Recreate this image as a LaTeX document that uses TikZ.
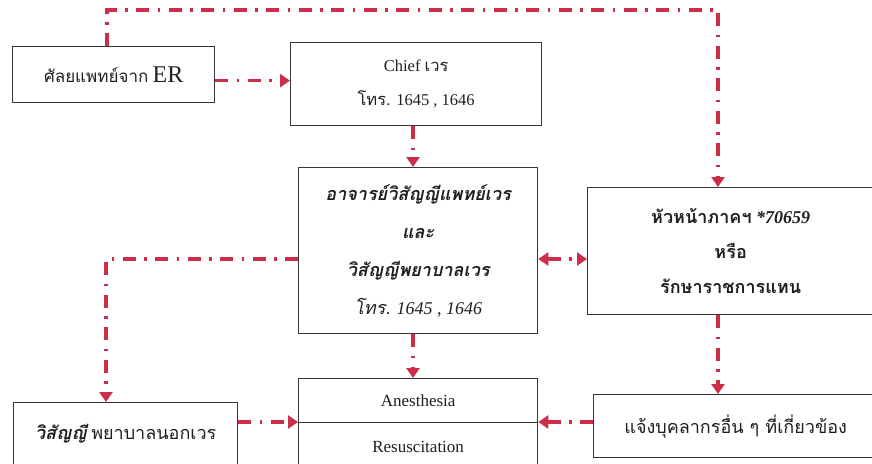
\documentclass[tikz,border=0pt]{standalone}
\usepackage{fontspec}
\setmainfont{Liberation Serif}
\newfontfamily\thai[Script=Thai]{Loma}
\usetikzlibrary{arrows.meta,calc}
\definecolor{conn}{RGB}{204,45,72}
\definecolor{boxline}{RGB}{55,55,50}
\tikzset{
  box/.style={draw=boxline, line width=1.3pt, inner sep=0pt, anchor=north west, align=center, text=black!88},
  link/.style={draw=conn, line width=3.2pt, dash pattern=on 13pt off 8.5pt on 2.5pt off 8.5pt},
  tip/.style={-{Triangle[length=10pt,width=13pt]}},
  tips/.style={{Triangle[length=10pt,width=13pt]}-{Triangle[length=10pt,width=13pt]}},
}
\begin{document}
\begin{tikzpicture}[x=1pt,y=-1pt]
\useasboundingbox[fill=white] (0,0) rectangle (872,463);
% boxes
\node[box, minimum width=202pt, minimum height=56pt, font=\fontsize{17}{20}\selectfont] (b1) at (12,46) {{\thai ศัลยแพทย์จาก} {\fontsize{24}{26}\selectfont ER}};
\node[box, minimum width=251pt, minimum height=83pt, font=\fontsize{16.5}{34}\selectfont] (b2) at (290,42) {Chief {\thai เวร}\\{\thai โทร.} 1645 , 1646};
\node[box, minimum width=239pt, minimum height=166pt, font=\fontsize{18}{38}\selectfont] (b3) at (298,167) {{\thai\bfseries\itshape อาจารย์วิสัญญีแพทย์เวร}\\{\thai\bfseries\itshape และ}\\{\thai\bfseries\itshape วิสัญญีพยาบาลเวร}\\{\thai\itshape โทร.} \itshape 1645 , 1646};
\node[box, minimum width=286pt, minimum height=127pt, font=\fontsize{18}{35}\selectfont] (b4) at (587,187) {{\thai\bfseries หัวหน้าภาคฯ} \bfseries\itshape *70659\\{\thai\bfseries หรือ}\\{\thai\bfseries รักษาราชการแทน}};
\node[box, minimum width=224pt, minimum height=62pt, font=\fontsize{18}{20}\selectfont] (b5) at (13,402) {{\thai\bfseries\itshape วิสัญญี} {\thai พยาบาลนอกเวร}};
\node[box, minimum width=239pt, minimum height=44pt, font=\fontsize{17}{20}\selectfont] (anes) at (298,378) {Anesthesia};
\node[box, minimum width=239pt, minimum height=48pt, font=\fontsize{17}{20}\selectfont] (resus) at (298,422) {Resuscitation};
\node[box, minimum width=284pt, minimum height=63pt, font=\fontsize{18}{20}\selectfont] (b6) at (593,394) {{\thai แจ้งบุคลากรอื่น ๆ ที่เกี่ยวข้อง}};
% corner coordinates
\coordinate (tl) at (107,10);
\coordinate (tr) at (718,10);
\coordinate (ml) at (106,259);
% connectors
\draw[link, tip] ([yshift=-6pt]b1.east) -- ([yshift=-6pt]b1.east -| b2.west);
\draw[link, tip] (b1.north -| tl) -- (tl) -- (tr) -- (b4.north -| tr);
\draw[link, tip] (b2.south -| 413,0) -- (b3.north -| 413,0);
\draw[link, tips] (b3.east |- ml) -- (b4.west |- ml);
\draw[link, tip] (b3.west |- ml) -- (ml) -- (b5.north -| ml);
\draw[link, tip] (b3.south -| 413,0) -- (anes.north -| 413,0);
\draw[link, tip] (b4.south -| tr) -- (b6.north -| tr);
\draw[link, tip] (b5.east |- resus.north west) -- (resus.north west);
\draw[link, tip] (b6.west |- resus.north east) -- (resus.north east);
\end{tikzpicture}
\end{document}
